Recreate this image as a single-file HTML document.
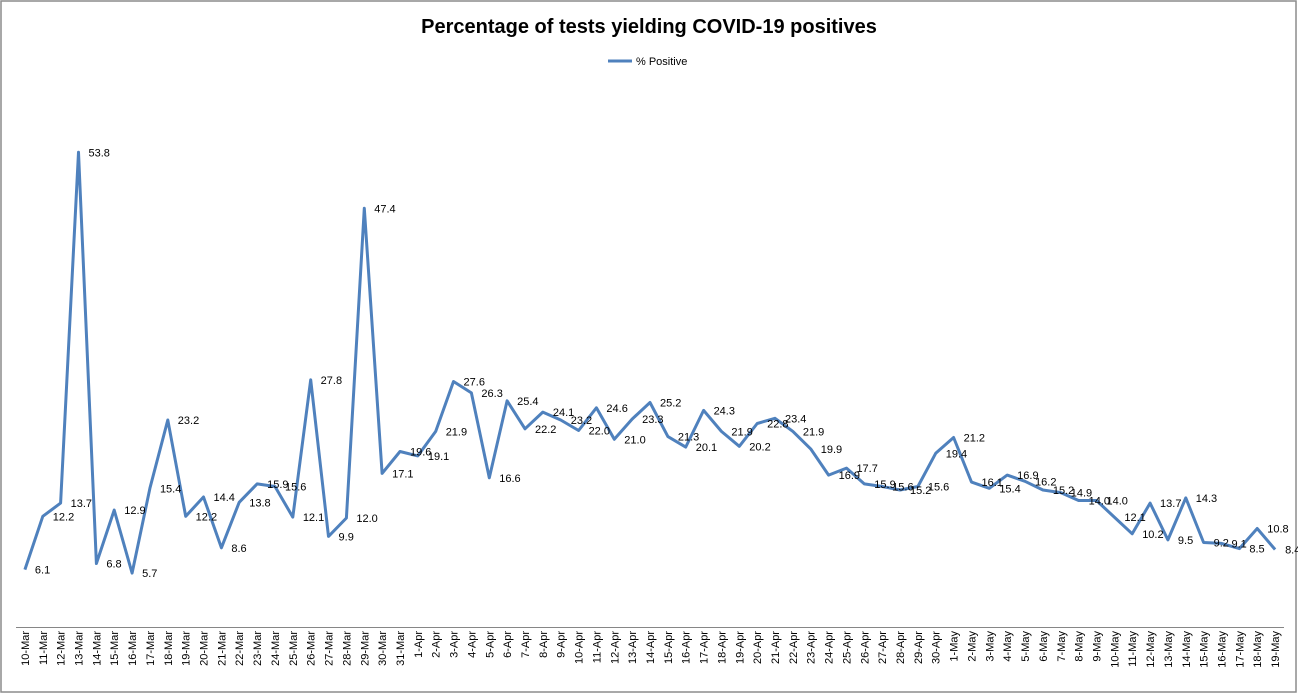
<!DOCTYPE html>
<html><head><meta charset="utf-8"><style>
body{margin:0;background:#fff;}
svg{display:block;font-family:"Liberation Sans",sans-serif;}
</style></head><body>
<svg id="chart" width="1298" height="694">
<rect x="1" y="1" width="1295" height="691" fill="#fff" stroke="#8c8c8c" stroke-width="1.5"/>
<text x="649" y="33" text-anchor="middle" font-size="20" font-weight="bold" fill="#000">Percentage of tests yielding COVID-19 positives</text>
<g>
<line x1="608" y1="61" x2="632" y2="61" stroke="#4f81bd" stroke-width="3"/>
<text x="636" y="65" font-size="11" fill="#000">% Positive</text>
</g>
<line x1="16" y1="627.5" x2="1284" y2="627.5" stroke="#868686" stroke-width="1"/>
<g id="xlabels"></g>
<g id="series"></g>
<g id="labels"></g>
</svg>
<script>
const categories=["10-Mar","11-Mar","12-Mar","13-Mar","14-Mar","15-Mar","16-Mar","17-Mar","18-Mar","19-Mar","20-Mar","21-Mar","22-Mar","23-Mar","24-Mar","25-Mar","26-Mar","27-Mar","28-Mar","29-Mar","30-Mar","31-Mar",
"1-Apr","2-Apr","3-Apr","4-Apr","5-Apr","6-Apr","7-Apr","8-Apr","9-Apr","10-Apr","11-Apr","12-Apr","13-Apr","14-Apr","15-Apr","16-Apr","17-Apr","18-Apr","19-Apr","20-Apr","21-Apr","22-Apr","23-Apr","24-Apr","25-Apr","26-Apr","27-Apr","28-Apr","29-Apr","30-Apr",
"1-May","2-May","3-May","4-May","5-May","6-May","7-May","8-May","9-May","10-May","11-May","12-May","13-May","14-May","15-May","16-May","17-May","18-May","19-May"];
const positive=[6.1,12.2,13.7,53.8,6.8,12.9,5.7,15.4,23.2,12.2,14.4,8.6,13.8,15.9,15.6,12.1,27.8,9.9,12.0,47.4,17.1,19.6,
19.1,21.9,27.6,26.3,16.6,25.4,22.2,24.1,23.2,22.0,24.6,21.0,23.3,25.2,21.3,20.1,24.3,21.9,20.2,22.8,23.4,21.9,19.9,16.9,17.7,15.9,15.6,15.2,15.6,19.4,
21.2,16.1,15.4,16.9,16.2,15.2,14.9,14.0,14.0,12.1,10.2,13.7,9.5,14.3,9.2,9.1,8.5,10.8,8.4];
const NS="http://www.w3.org/2000/svg";
const left=16,right=1284,band=(right-left)/categories.length;
function xScale(i){return left+band*(i+0.5);}
function yScale(v){return 623-8.75*v;}
const xl=document.getElementById('xlabels');
categories.forEach((c,i)=>{
  const t=document.createElementNS(NS,'text');
  const x=xScale(i)+4,y=631;
  t.setAttribute('x',x);t.setAttribute('y',y);
  t.setAttribute('transform','rotate(-90 '+x+' '+y+')');
  t.setAttribute('text-anchor','end');t.setAttribute('font-size','11');t.setAttribute('fill','#000');
  t.textContent=c;
  
  
  xl.appendChild(t);
});
const pts=positive.map((v,i)=>xScale(i).toFixed(1)+','+yScale(v).toFixed(1)).join(' ');
const pl=document.createElementNS(NS,'polyline');
pl.setAttribute('points',pts);pl.setAttribute('fill','none');pl.setAttribute('stroke','#4f81bd');
pl.setAttribute('stroke-width','3');pl.setAttribute('stroke-linejoin','round');


document.getElementById('series').appendChild(pl);
const lg=document.getElementById('labels');
positive.forEach((v,i)=>{
  const t=document.createElementNS(NS,'text');
  t.setAttribute('x',xScale(i)+10);t.setAttribute('y',yScale(v)+4);
  t.setAttribute('font-size','11');t.setAttribute('fill','#000');
  t.textContent=v.toFixed(1);
  
  
  lg.appendChild(t);
});
</script>
</body></html>
